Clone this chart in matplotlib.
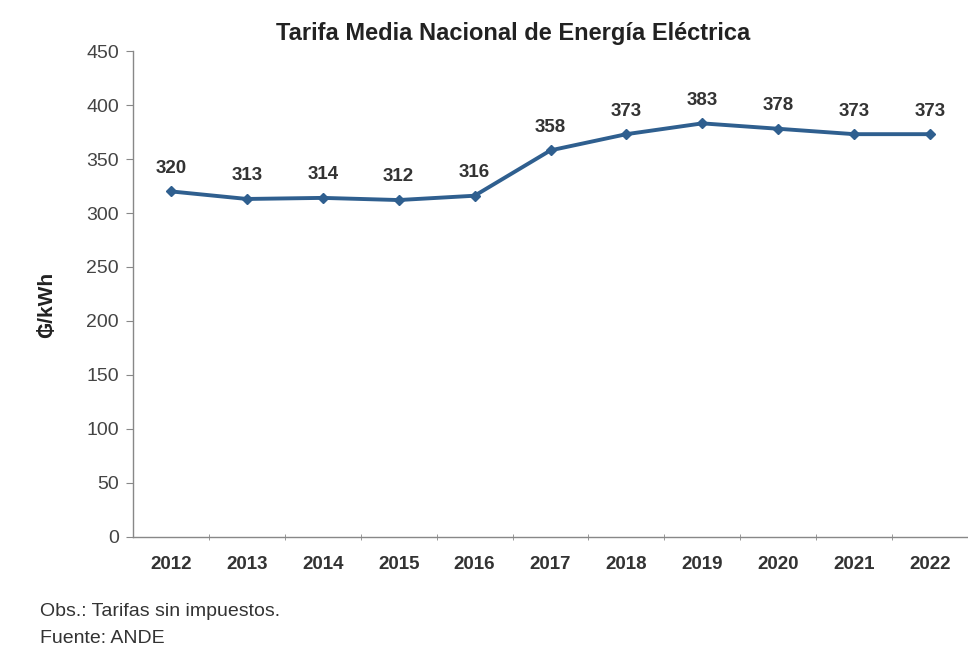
import matplotlib
matplotlib.use("Agg")
import matplotlib.pyplot as plt

years = ["2012", "2013", "2014", "2015", "2016", "2017", "2018", "2019", "2020", "2021", "2022"]
tarifa = [320, 313, 314, 312, 316, 358, 373, 383, 378, 373, 373]
y_ticks = [0, 50, 100, 150, 200, 250, 300, 350, 400, 450]

plt.rcParams['font.family'] = ['Liberation Sans', 'DejaVu Sans']

fig = plt.figure(figsize=(9.68, 6.49), dpi=100)
ax = fig.add_axes([0.1374, 0.1726, 0.8626, 0.7488])

x = list(range(len(years)))
line_color = "#2F5F8F"
ax.plot(x, tarifa, color=line_color, linewidth=2.8, marker="D", markersize=5.5,
        markerfacecolor=line_color, markeredgecolor=line_color, zorder=3)

for xi, v in zip(x, tarifa):
    ax.annotate(f"{v}", (xi, v), xytext=(0, 10.5), textcoords="offset points",
                ha="center", va="bottom", fontsize=13.5, fontweight="bold", color="#333333")

ax.set_xlim(-0.5, len(years) - 0.5)
ax.set_ylim(0, 450)
ax.set_yticks(y_ticks)
ax.set_xticks(x)
ax.set_xticklabels(years, fontsize=13.5, fontweight="bold", color="#333333")
ax.tick_params(axis="x", length=0, pad=14)
ax.set_xticks([i + 0.5 for i in x[:-1]], minor=True)
ax.tick_params(axis="x", which="minor", length=4, direction="inout", color="#888888")
ax.tick_params(axis="y", labelsize=14, labelcolor="#444444", length=5, color="#888888", pad=5)

for side in ["top", "right"]:
    ax.spines[side].set_visible(False)
for side in ["left", "bottom"]:
    ax.spines[side].set_color("#888888")
    ax.spines[side].set_linewidth(1.0)

ax.set_ylabel("₲/kWh", fontsize=15, fontweight="bold", color="#222222")
ax.yaxis.set_label_coords(-0.092, 0.477)

fig.text(0.530, 0.949, "Tarifa Media Nacional de Energía Eléctrica", ha="center", va="center",
         fontsize=17, fontweight="bold", color="#222222")
fig.text(0.041, 0.058, "Obs.: Tarifas sin impuestos.", ha="left", va="center",
         fontsize=14, color="#333333")
fig.text(0.041, 0.016, "Fuente: ANDE", ha="left", va="center",
         fontsize=14, color="#333333")

fig.savefig("out.png", dpi=100)
